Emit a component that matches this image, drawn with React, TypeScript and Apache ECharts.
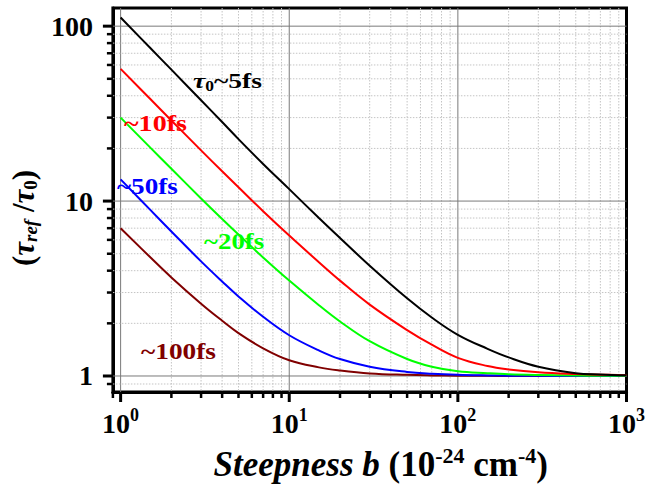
import React, { useEffect, useRef } from "react";
import * as echarts from "echarts";

// Steepness b (10^-24 cm^-4)
const steepness = [1, 1.5, 2, 3, 4, 5, 7, 10, 15, 20, 30, 50, 70, 100, 150, 200, 300, 500, 700, 1000];
// tau_ref / tau_0 for each pulse duration
const ratio5fs = [112, 75, 56.4, 37.7, 28.3, 22.6, 16.3, 11.7, 8.0, 6.15, 4.27, 2.78, 2.16, 1.72, 1.43, 1.278, 1.13, 1.038, 1.02, 1.009];
const ratio10fs = [57, 38.3, 28.9, 19.5, 14.8, 12.0, 8.75, 6.35, 4.47, 3.51, 2.56, 1.83, 1.51, 1.27, 1.14, 1.09, 1.05, 1.026, 1.018, 1.01];
const ratio20fs = [30, 20.2, 15.3, 10.35, 7.9, 6.44, 4.76, 3.51, 2.54, 2.05, 1.58, 1.25, 1.13, 1.066, 1.038, 1.023, 1.013, 1.006, 1.004, 1.002];
const ratio50fs = [13.3, 8.9, 6.7, 4.52, 3.47, 2.85, 2.18, 1.71, 1.4, 1.25, 1.13, 1.055, 1.03, 1.015, 1.007, 1.004, 1.002, 1.0, 1.0, 1.0];
const ratio100fs = [7.0, 4.77, 3.66, 2.59, 2.07, 1.76, 1.44, 1.23, 1.12, 1.075, 1.035, 1.015, 1.008, 1.004, 1.002, 1.001, 1.0, 1.0, 1.0, 1.0];

// Tick positions
const xMajorTicks = [1, 10, 100, 1000];
const xMinorTicks = [0.9, 2, 3, 4, 5, 6, 7, 8, 9, 20, 30, 40, 50, 60, 70, 80, 90, 200, 300, 400, 500, 600, 700, 800, 900];
const yMajorTicks = [1, 10, 100];
const yMinorTicks = [0.9, 2, 3, 4, 5, 6, 7, 8, 9, 20, 30, 40, 50, 60, 70, 80, 90];

const FONT = "Liberation Serif";

export default function App() {
  const ref = useRef<HTMLDivElement>(null);

  useEffect(() => {
    if (!ref.current) return;
    const chart = echarts.init(ref.current, null, { renderer: "svg" });

    const gridData: number[][] = [
      ...xMajorTicks.map((v) => [v, 1, 0, 1]),
      ...xMinorTicks.map((v) => [v, 1, 0, 0]),
      ...yMajorTicks.map((v) => [1, v, 1, 1]),
      ...yMinorTicks.map((v) => [1, v, 1, 0]),
    ];

    const majorStyle = { stroke: "#7a7a7a", lineWidth: 1 };
    const minorStyle = { stroke: "#c4c4c4", lineWidth: 1, lineDash: [1.5, 1.5] };

    const mk = (name: string, vals: number[], color: string) => ({
      name,
      type: "line",
      data: steepness.map((b, i) => [b, vals[i]]),
      showSymbol: false,
      symbol: "none",
      smooth: 0.4,
      lineStyle: { color, width: 2 },
      z: 3,
      silent: true,
    });

    const labelText = (
      text: string,
      x: number,
      y: number,
      color: string,
      size: number,
      sx: number
    ) => ({
      type: "text",
      x,
      y,
      scaleX: sx,
      z: 10,
      style: {
        text,
        fill: color,
        font: `bold ${size}px ${FONT}`,
        textVerticalAlign: "middle",
        rich: {
          t: { fontStyle: "italic", fontWeight: "bold", fontSize: size, fontFamily: FONT, fill: color },
          s: { fontWeight: "bold", fontSize: 14, fontFamily: FONT, fill: color, padding: [12, 0, 0, 0] },
          n: { fontWeight: "bold", fontSize: size, fontFamily: FONT, fill: color },
        },
      },
    });

    const option: any = {
      animation: false,
      backgroundColor: "#fff",
      grid: {
        left: 110,
        top: 8,
        right: 18,
        bottom: 99,
        show: true,
        borderColor: "#000",
        borderWidth: 3,
        backgroundColor: "transparent",
      },
      xAxis: {
        type: "log",
        logBase: 10,
        min: 0.9,
        max: 1000,
        axisLine: { show: true, lineStyle: { color: "#000", width: 3 } },
        axisTick: { show: false },
        splitLine: { show: false },
        axisLabel: {
          margin: 14,
          formatter: (v: number) => {
            const e = Math.log10(v);
            if (Math.abs(e - Math.round(e)) > 1e-3) return "";
            return `{b|10}{s|${Math.round(e)}}`;
          },
          rich: {
            b: { fontSize: 28, fontWeight: "bold", fontFamily: FONT, color: "#000" },
            s: { fontSize: 18, fontWeight: "bold", fontFamily: FONT, color: "#000", padding: [0, 0, 16, 0] },
          },
        },
        name: "{bi|Steepness b} {b|(10}{s|-24}{b| cm}{s|-4}{b|)}",
        nameLocation: "middle",
        nameGap: 52,
        nameTextStyle: {
          padding: [0, 0, 0, 22],
          fontFamily: FONT,
          fontSize: 35,
          fontWeight: "bold",
          color: "#000",
          rich: {
            bi: { fontSize: 35, fontWeight: "bold", fontStyle: "italic", fontFamily: FONT, color: "#000" },
            b: { fontSize: 35, fontWeight: "bold", fontFamily: FONT, color: "#000" },
            s: { fontSize: 22, fontWeight: "bold", fontFamily: FONT, color: "#000", padding: [0, 0, 18, 0] },
          },
        },
      },
      yAxis: {
        type: "log",
        logBase: 10,
        min: 0.81,
        max: 127,
        axisLine: { show: true, lineStyle: { color: "#000", width: 3 } },
        axisTick: { show: false },
        splitLine: { show: false },
        axisLabel: {
          margin: 20,
          fontSize: 28,
          fontWeight: "bold",
          fontFamily: FONT,
          color: "#000",
          formatter: (v: number) => {
            const e = Math.log10(v);
            if (Math.abs(e - Math.round(e)) > 1e-3) return "";
            return String(Math.round(v));
          },
        },
        name: "{p|(}{t|τ}{sub|ref}{p| /}{t|τ}{sub0|0}{p|)}",
        nameLocation: "middle",
        nameRotate: 90,
        nameGap: 63,
        nameTextStyle: {
          padding: [0, 36, 0, 0],
          fontFamily: FONT,
          fontSize: 31,
          fontWeight: "bold",
          color: "#000",
          rich: {
            p: { fontSize: 31, fontWeight: "bold", fontFamily: FONT, color: "#000" },
            t: { fontSize: 31, fontWeight: "bold", fontStyle: "italic", fontFamily: FONT, color: "#000" },
            sub: { fontSize: 19, fontWeight: "bold", fontStyle: "italic", fontFamily: FONT, color: "#000", padding: [14, 0, 0, 0] },
            sub0: { fontSize: 19, fontWeight: "bold", fontFamily: FONT, color: "#000", padding: [14, 0, 0, 0] },
          },
        },
      },
      series: [
        {
          type: "custom",
          silent: true,
          z: 1,
          clip: false,
          encode: { x: 0, y: 1 },
          data: gridData,
          renderItem: (params: any, api: any) => {
            const cs = params.coordSys;
            const kind = api.value(2);
            const major = api.value(3) === 1;
            const left = cs.x;
            const right = cs.x + cs.width;
            const top = cs.y;
            const bottom = cs.y + cs.height;
            const children: any[] = [];
            if (kind === 0) {
              const x = api.coord([api.value(0), 1])[0];
              if (x > left + 2 && x < right - 2) {
                children.push({
                  type: "line",
                  shape: { x1: x, y1: top, x2: x, y2: bottom },
                  style: major ? majorStyle : minorStyle,
                });
              }
              children.push({
                type: "line",
                shape: { x1: x, y1: bottom, x2: x, y2: bottom + (major ? 10 : 6) },
                style: { stroke: "#000", lineWidth: major ? 3 : 2.5 },
              });
            } else {
              const y = api.coord([1, api.value(1)])[1];
              if (y > top + 2 && y < bottom - 2) {
                children.push({
                  type: "line",
                  shape: { x1: left, y1: y, x2: right, y2: y },
                  style: major ? majorStyle : minorStyle,
                });
              }
              children.push({
                type: "line",
                shape: { x1: left, y1: y, x2: left - (major ? 10 : 6), y2: y },
                style: { stroke: "#000", lineWidth: major ? 3 : 2.5 },
              });
            }
            return { type: "group", children };
          },
        },
        mk("~100fs", ratio100fs, "#800000"),
        mk("~50fs", ratio50fs, "#0000ff"),
        mk("~20fs", ratio20fs, "#00ff00"),
        mk("~10fs", ratio10fs, "#ff0000"),
        mk("τ0~5fs", ratio5fs, "#000000"),
      ],
      graphic: [
        labelText("{t|τ}{s|0}{n|~5fs}", 193, 80, "#000", 22, 1.25),
        labelText("{n|~10fs}", 124, 123, "#ff0000", 24, 1.17),
        labelText("{n|~50fs}", 117, 186, "#0000ff", 23, 1.18),
        labelText("{n|~20fs}", 204, 241, "#00ff00", 24, 1.12),
        labelText("{n|~100fs}", 141, 351, "#800000", 23, 1.19),
      ],
    };

    chart.setOption(option);
    return () => chart.dispose();
  }, []);

  return (
    <div
      ref={ref}
      style={{ position: "fixed", left: 0, top: 0, width: 648, height: 491, background: "#fff" }}
    />
  );
}
